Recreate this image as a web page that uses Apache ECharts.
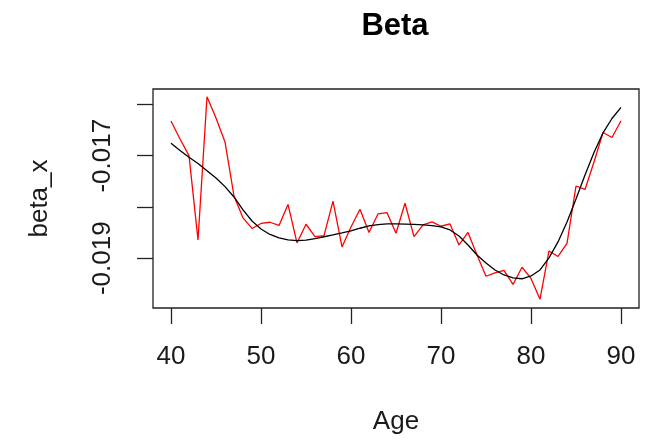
<!DOCTYPE html>
<html>
<head>
<meta charset="utf-8">
<script src="https://cdn.jsdelivr.net/npm/echarts@6/dist/echarts.min.js"></script>
<style>html,body{margin:0;padding:0;background:#fff}#c{width:655px;height:447px}</style>
</head>
<body>
<div id="c"></div>
<script>
const ages = [40,41,42,43,44,45,46,47,48,49,50,51,52,53,54,55,56,57,58,59,60,61,62,63,64,65,66,67,68,69,70,71,72,73,74,75,76,77,78,79,80,81,82,83,84,85,86,87,88,89,90];
const betaRaw = [-0.016324,-0.016674,-0.017000,-0.018643,-0.015850,-0.016265,-0.016733,-0.017786,-0.018214,-0.018419,
  -0.018322,-0.018298,-0.018361,-0.017951,-0.018702,-0.018337,-0.018579,-0.018559,-0.017887,-0.018780,
  -0.018390,-0.018045,-0.018497,-0.018136,-0.018111,-0.018513,-0.017928,-0.018579,-0.018351,-0.018292,
  -0.018376,-0.018331,-0.018741,-0.018497,-0.018936,-0.019351,-0.019287,-0.019238,-0.019511,-0.019175,
  -0.019394,-0.019799,-0.018858,-0.018965,-0.018708,-0.017591,-0.017659,-0.017123,-0.016548,-0.016645,-0.016320];
const betaSmooth = [-0.016758,-0.016899,-0.017031,-0.017152,-0.017292,-0.017435,-0.017604,-0.017805,-0.018058,-0.018273,
  -0.018429,-0.018536,-0.018604,-0.018643,-0.018657,-0.018647,-0.018618,-0.018581,-0.018546,-0.018507,
  -0.018464,-0.018415,-0.018370,-0.018343,-0.018331,-0.018331,-0.018335,-0.018341,-0.018351,-0.018363,
  -0.018390,-0.018448,-0.018565,-0.018741,-0.018936,-0.019092,-0.019228,-0.019326,-0.019384,-0.019400,
  -0.019345,-0.019228,-0.018994,-0.018682,-0.018292,-0.017844,-0.017376,-0.016938,-0.016557,-0.016275,-0.016057];
const xTicks = [40,50,60,70,80,90];
const yTicks = [-0.016,-0.017,-0.018,-0.019];
const yTickLabels = [-0.017,-0.019];

const chart = echarts.init(document.getElementById('c'), null, {renderer:'canvas'});
const font = "'Liberation Sans', Arial, sans-serif";
chart.setOption({
  animation:false,
  backgroundColor:'#fff',
  title:{text:'Beta', left:390, top:6, textAlign:'center',
    textStyle:{fontFamily:font, fontWeight:'bold', fontSize:31, color:'#000'}},
  grid:{left:153, right:16, top:89, bottom:139, show:true, borderColor:'#222', borderWidth:1.3, backgroundColor:'transparent'},
  xAxis:{type:'value', min:38, max:92,
    name:'Age', nameLocation:'middle', nameGap:101,
    nameTextStyle:{fontFamily:font, fontSize:26, color:'#1a1a1a'},
    axisLine:{show:false},
    axisTick:{show:true, customValues:xTicks, length:16, lineStyle:{color:'#222', width:1.3}},
    axisLabel:{customValues:xTicks, margin:36, fontFamily:font, fontSize:26, color:'#1a1a1a'},
    splitLine:{show:false}},
  yAxis:{type:'value', min:-0.01997, max:-0.0157,
    name:'beta_x', nameLocation:'middle', nameGap:100, nameRotate:90,
    nameTextStyle:{fontFamily:font, fontSize:26, color:'#1a1a1a'},
    axisLine:{show:false},
    axisTick:{show:true, customValues:yTicks, length:16, lineStyle:{color:'#222', width:1.3}},
    axisLabel:{customValues:yTickLabels, rotate:90, margin:37, fontFamily:font, fontSize:26, color:'#1a1a1a',
      formatter:v=>v.toFixed(3)},
    splitLine:{show:false}},
  series:[
    {type:'line', data:ages.map((a,i)=>[a,betaRaw[i]]), showSymbol:false, symbol:'none',
      lineStyle:{color:'#ff0000', width:1.3}, z:2},
    {type:'line', data:ages.map((a,i)=>[a,betaSmooth[i]]), showSymbol:false, symbol:'none',
      lineStyle:{color:'#000', width:1.3}, z:3}
  ]
});
</script>
</body>
</html>
